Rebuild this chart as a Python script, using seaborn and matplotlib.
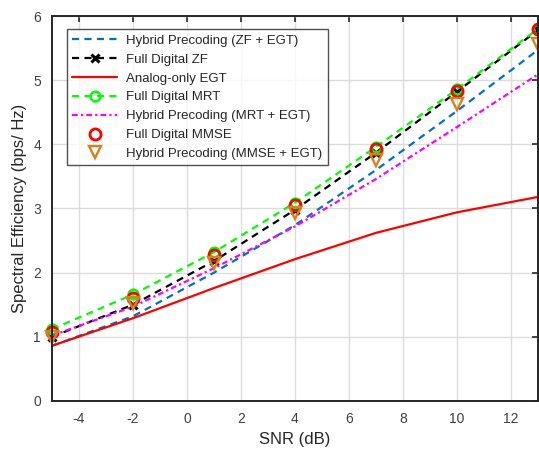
import matplotlib
matplotlib.use("Agg")
import matplotlib.pyplot as plt
import seaborn as sns

snr = [-5, -2, 1, 4, 7, 10, 13]

hybrid_zf_egt = [0.86, 1.32, 2.00, 2.74, 3.60, 4.52, 5.47]
full_zf = [1.00, 1.50, 2.18, 2.98, 3.87, 4.82, 5.78]
analog_egt = [0.86, 1.29, 1.76, 2.21, 2.62, 2.94, 3.18]
full_mrt = [1.12, 1.66, 2.32, 3.09, 3.96, 4.86, 5.80]
hybrid_mrt_egt = [1.02, 1.47, 2.07, 2.72, 3.46, 4.27, 5.09]
full_mmse = [1.07, 1.60, 2.27, 3.05, 3.92, 4.83, 5.79]
hybrid_mmse_egt = [1.00, 1.52, 2.15, 2.93, 3.75, 4.63, 5.57]

labels = ["Hybrid Precoding (ZF + EGT)", "Full Digital ZF", "Analog-only EGT",
          "Full Digital MRT", "Hybrid Precoding (MRT + EGT)", "Full Digital MMSE",
          "Hybrid Precoding (MMSE + EGT)"]

sns.set_theme(style="whitegrid")
plt.rcParams['font.family'] = ['Liberation Sans', 'DejaVu Sans']
plt.rcParams['axes.unicode_minus'] = False

fig = plt.figure(figsize=(5.39, 4.51), dpi=100)
ax = fig.add_axes([0.0965, 0.111, 0.9015, 0.8535])

DASH = [3.2, 2.4]

def add(y, label, dashes=None, **kw):
    # seaborn defaults marker edges to white, so pass the edge colour explicitly
    sns.lineplot(x=snr, y=y, ax=ax, legend=False, clip_on=False, **kw)
    ln = ax.lines[-1]
    ln.set_label(label)
    if dashes is not None:
        ln.set_dashes(dashes)
    return ln

handles = []
handles.append(add(hybrid_zf_egt, labels[0], DASH, color="#0072BD", lw=1.6))
handles.append(add(full_zf, labels[1], DASH, color="black", lw=1.6, marker="x",
                   markersize=6, markeredgewidth=2.2, markeredgecolor="black"))
handles.append(add(analog_egt, labels[2], color="#FF0000", lw=1.6))
handles.append(add(full_mrt, labels[3], DASH, color="#00FF00", lw=1.6, marker="o",
                   markersize=7, markerfacecolor="none", markeredgecolor="#00FF00",
                   markeredgewidth=1.8))
handles.append(add(hybrid_mrt_egt, labels[4], [2.6, 1.4, 1.0, 1.4], color="#FF00FF", lw=1.6))
handles.append(add(full_mmse, labels[5], color="#FF0000", lw=0, marker="o",
                   markersize=8, markerfacecolor="none", markeredgecolor="#FF0000",
                   markeredgewidth=2.0))
handles.append(add(hybrid_mmse_egt, labels[6], color="#D98019", lw=0, marker="v",
                   markersize=9, markerfacecolor="none", markeredgecolor="#D98019",
                   markeredgewidth=1.7))

ax.set_xlim(-5, 13)
ax.set_ylim(0, 6)
ax.set_xticks([-4, -2, 0, 2, 4, 6, 8, 10, 12])
ax.set_yticks([0, 1, 2, 3, 4, 5, 6])
ax.set_xlabel("SNR (dB)", fontsize=12, color="#262626")
ax.set_ylabel("Spectral Efficiency (bps/ Hz)", fontsize=12, color="#262626")
ax.tick_params(axis="both", labelsize=10, colors="#262626", direction="in",
               length=4, width=1.2, top=True, right=True, pad=8)
ax.tick_params(axis="both", labelcolor="#404040")
ax.grid(True, color="#DCDCDC", lw=1)
for s in ax.spines.values():
    s.set_visible(True)
    s.set_color("#262626")
    s.set_linewidth(1.4)
ax.set_facecolor("white")

leg = ax.legend(handles=handles, loc="upper left", bbox_to_anchor=(0.031, 0.965),
                fontsize=9.5, frameon=True, fancybox=False, edgecolor="#262626",
                handlelength=3.4, borderpad=0.4, labelspacing=0.5,
                handletextpad=0.7, borderaxespad=0)
leg.get_frame().set_linewidth(1.0)

fig.savefig("out.png", dpi=100)
